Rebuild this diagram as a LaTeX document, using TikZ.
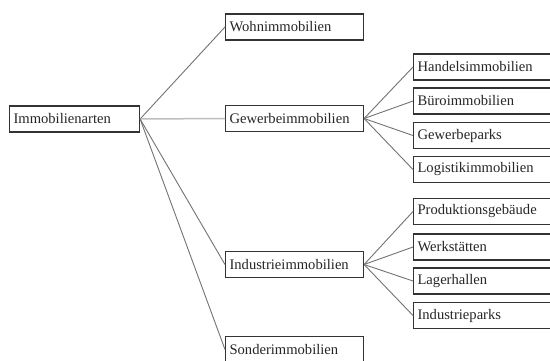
\documentclass[tikz,border=0pt]{standalone}
\usepackage{fontspec}
\setmainfont{Liberation Serif}
\begin{document}
\begin{tikzpicture}[x=1pt,y=-1pt,
  box/.style={draw=black!80, line width=1.1pt, rectangle, anchor=west,
    minimum height=26pt, inner xsep=4pt, inner ysep=0pt,
    font=\fontsize{14.6}{16}\selectfont, text=black!85},
  mid/.style={box, minimum width=138pt, text width=130pt, align=left},
  leaf/.style={box, minimum width=142pt, text width=134pt, align=left},
  link/.style={draw=black!55, line width=0.9pt},
  mainlink/.style={draw=black!25, line width=1.5pt}]
\clip (0,0) rectangle (550,360);
\fill[white] (0,0) rectangle (550,360);

% root
\node[box, minimum width=130pt, text width=122pt, align=left] (root) at (9,119) {Immobilienarten};

% second level
\node[mid] (wohn) at (225,27) {Wohnimmobilien};
\node[mid] (gew) at (225,118.5) {Gewerbeimmobilien};
\node[mid] (ind) at (225,264.5) {Industrieimmobilien};
\node[mid] (sond) at (225,349.5) {Sonderimmobilien};

% commercial leaves
\node[leaf] (handel) at (413,67) {Handelsimmobilien};
\node[leaf] (buero) at (413,101) {Büroimmobilien};
\node[leaf] (gpark) at (413,135.5) {Gewerbeparks};
\node[leaf] (logi) at (413,169.5) {Logistikimmobilien};

% industrial leaves
\node[leaf] (prod) at (413,211.5) {Produktionsgebäude};
\node[leaf] (werk) at (413,247) {Werkstätten};
\node[leaf] (lager) at (413,281) {Lagerhallen};
\node[leaf] (ipark) at (413,315.5) {Industrieparks};

% connectors
\draw[link] (root.east) -- (wohn.west);
\draw[mainlink] (root.east) -- (gew.west);
\draw[link] (root.east) -- (ind.west);
\draw[link] (root.east) -- (sond.west);

\foreach \n in {handel,buero,gpark,logi}
  \draw[link] (gew.east) -- (\n.west);
\foreach \n in {prod,werk,lager,ipark}
  \draw[link] (ind.east) -- (\n.west);
\end{tikzpicture}
\end{document}
